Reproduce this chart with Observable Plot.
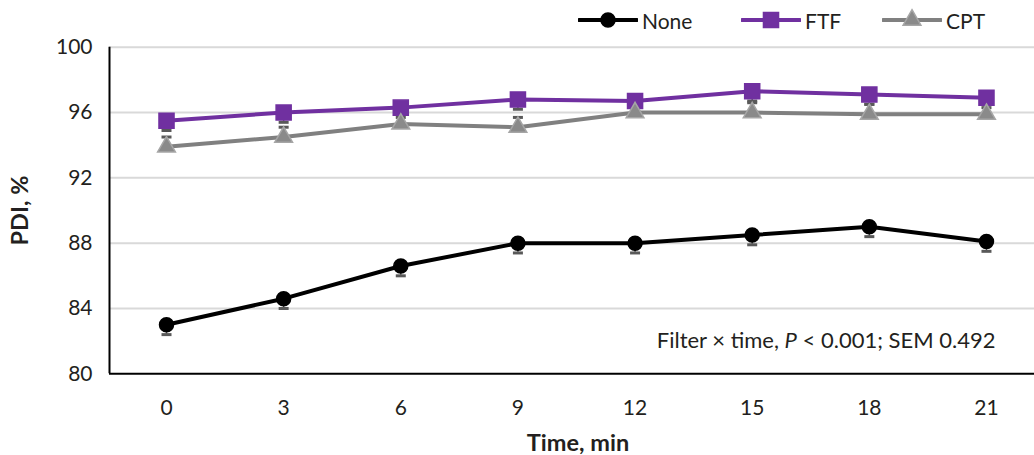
<!DOCTYPE html>
<html>
<head>
<meta charset="utf-8">
<script src="https://cdn.jsdelivr.net/npm/d3@7"></script>
<script src="https://cdn.jsdelivr.net/npm/@observablehq/plot@0.6"></script>
<style>
  html, body { margin: 0; padding: 0; background: #fff; }
  body { width: 1034px; height: 455px; overflow: hidden; position: relative; font-family: Lato, "Open Sans", sans-serif; color: #231f20; }
  #legend { position: absolute; left: 0; top: 0; width: 1034px; height: 40px; z-index: 2; }
  .item { position: absolute; top: 6px; display: flex; align-items: center; font-size: 21px; height: 28px; }
  .item svg { margin-right: 4px; }
</style>
</head>
<body>
<div id="legend"></div>
<div id="chart"></div>
<script>
// ---- data ----
const times = [0, 3, 6, 9, 12, 15, 18, 21];
const noneVals = [83.0, 84.6, 86.6, 88.0, 88.0, 88.5, 89.0, 88.1];
const ftfVals  = [95.5, 96.0, 96.3, 96.8, 96.7, 97.3, 97.1, 96.9];
const cptVals  = [93.9, 94.5, 95.3, 95.1, 96.0, 96.0, 95.9, 95.9];
const errHalf = 0.6;
const seriesNames = ["None", "FTF", "CPT"];
const errDirection = {None: -1, FTF: -1, CPT: 1};
const yTicks = [80, 84, 88, 92, 96, 100];
const note = "Filter × time, P < 0.001; SEM 0.492";

const colors = {None: "#000000", FTF: "#7030a0", CPT: "#808080"};
const markerFill = {None: "#000000", FTF: "#7030a0", CPT: "#8a8a8a"};
const markerStroke = {None: "#000000", FTF: "#7030a0", CPT: "#a6a6a6"};
const symbols = {None: "circle", FTF: "square", CPT: "triangle"};
const radius = {None: 7, FTF: 8.5, CPT: 6.6};

const valuesBy = {None: noneVals, FTF: ftfVals, CPT: cptVals};
const rows = seriesNames.flatMap(s => times.map((t, i) => ({series: s, t, v: valuesBy[s][i]})));

// ---- legend ----
const legendPos = {None: 578, FTF: 741, CPT: 882};
const legend = document.getElementById("legend");
for (const s of seriesNames) {
  const item = document.createElement("div");
  item.className = "item";
  item.style.left = legendPos[s] + "px";
  const sym = d3.symbol(s === "None" ? d3.symbolCircle : s === "FTF" ? d3.symbolSquare : d3.symbolTriangle,
    Math.PI * radius[s] * radius[s])();
  item.innerHTML = `<svg width="60" height="28"><line x1="1" x2="59" y1="14" y2="14" stroke="${colors[s]}" stroke-width="4" stroke-linecap="round"/>
    <path d="${sym}" transform="translate(30,14)" fill="${markerFill[s]}" stroke="${markerStroke[s]}" stroke-width="1.5"/></svg><span>${s}</span>`;
  legend.appendChild(item);
}

// ---- chart ----
const capSymbol = {draw(ctx, size) { ctx.moveTo(-5, 0); ctx.lineTo(5, 0); }};
const xDomain = [-1.46, 22.23];
const errEnd = d => d.v + errDirection[d.series] * errHalf;

const chart = Plot.plot({
  width: 1034,
  height: 455,
  marginLeft: 109,
  marginRight: 0,
  marginTop: 46.7,
  marginBottom: 81.7,
  style: {fontFamily: "Lato, 'Open Sans', sans-serif", fontSize: "21px", color: "#231f20", background: "#fff"},
  x: {type: "linear", domain: xDomain, ticks: times, tickFormat: d => String(d), tickSize: 0, tickPadding: 26, label: null},
  y: {domain: [80, 100], ticks: yTicks, tickSize: 0, tickPadding: 17, label: null},
  marks: [
    Plot.gridY(yTicks.filter(d => d > 80), {stroke: "#d9d9d9", strokeWidth: 2, strokeOpacity: 1}),
    Plot.ruleY([80], {stroke: "#000", strokeWidth: 2}),
    Plot.ruleX([xDomain[0]], {y1: 80, y2: 100, stroke: "#000", strokeWidth: 2}),
    Plot.axisX({ticks: times, tickSize: 0, tickPadding: 26, label: null, fill: "#231f20"}),
    Plot.axisY({ticks: yTicks, tickSize: 0, tickPadding: 17, label: null, fill: "#231f20"}),
    Plot.ruleX(rows, {x: "t", y1: "v", y2: errEnd, stroke: "#595959", strokeWidth: 1.5}),
    Plot.dot(rows, {x: "t", y: errEnd, symbol: () => capSymbol, stroke: "#595959", strokeWidth: 3}),
    Plot.line(rows, {x: "t", y: "v", z: "series", stroke: d => colors[d.series], strokeWidth: 4}),
    ...seriesNames.map(s => Plot.dot(rows.filter(d => d.series === s), {
      x: "t", y: "v", symbol: symbols[s], r: radius[s],
      fill: markerFill[s], stroke: markerStroke[s], strokeWidth: 1.5
    })),
    Plot.text([note], {frameAnchor: "bottom-right", dx: -39, dy: -33, lineAnchor: "middle", textAnchor: "end", fill: "#231f20", fontSize: 22, className: "note"}),
    Plot.text(["Time, min"], {frameAnchor: "bottom", dx: 6, dy: 70, lineAnchor: "middle", fontWeight: "bold", fill: "#231f20", fontSize: 23.5}),
    Plot.text(["PDI, %"], {frameAnchor: "left", dx: -89.5, rotate: -90, lineAnchor: "middle", textAnchor: "middle", fontWeight: "bold", fill: "#231f20", fontSize: 23.5})
  ]
});
document.getElementById("chart").appendChild(chart);

// italicize the P in the note
const noteText = chart.querySelector(".note text");
if (noteText) {
  const full = noteText.textContent;
  const idx = full.indexOf("P <");
  noteText.textContent = "";
  const parts = [[full.slice(0, idx), false], ["P", true], [full.slice(idx + 1), false]];
  for (const [txt, it] of parts) {
    const ts = document.createElementNS("http://www.w3.org/2000/svg", "tspan");
    ts.textContent = txt;
    if (it) ts.setAttribute("font-style", "italic");
    noteText.appendChild(ts);
  }
}
</script>
</body>
</html>
